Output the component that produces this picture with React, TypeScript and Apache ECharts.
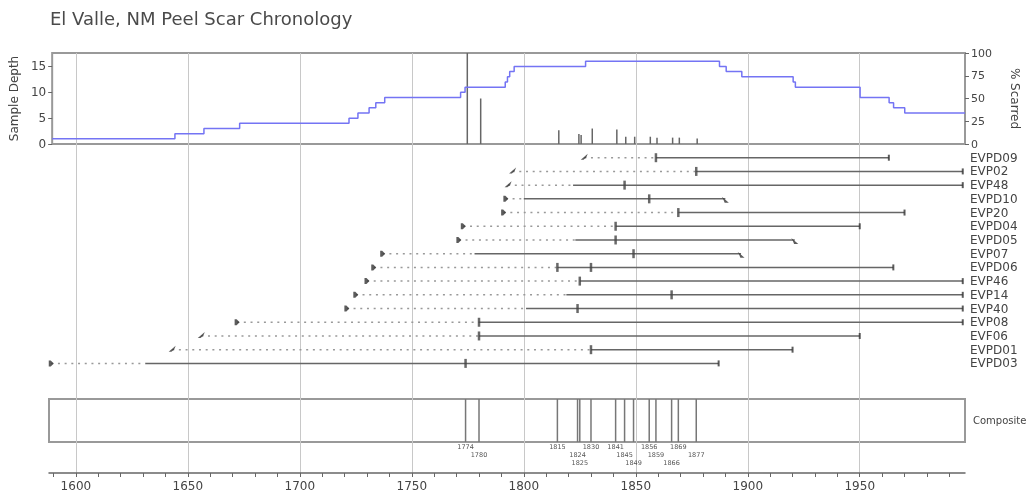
import React, { useEffect, useRef } from "react";
import * as echarts from "echarts";

const FONT = "DejaVu Sans";
const X_MIN = 1588;
const X_MAX = 1997;

// Trees, top to bottom
const treeNames = ["EVPD09", "EVP02", "EVP48", "EVPD10", "EVP20", "EVPD04", "EVPD05", "EVP07", "EVPD06", "EVP46", "EVP14", "EVP40", "EVP08", "EVF06", "EVPD01", "EVPD03"];
const innerYears = [1827, 1795, 1793, 1792, 1791, 1773, 1771, 1737, 1733, 1730, 1725, 1721, 1672, 1656, 1643, 1589];
const recordStart = [1859, 1877, 1822, 1800, 1869, 1841, 1823, 1778, 1815, 1825, 1819, 1801, 1780, 1780, 1830, 1631];
const outerYears = [1963, 1996, 1996, 1890, 1970, 1950, 1921, 1897, 1965, 1996, 1996, 1996, 1996, 1950, 1920, 1887];
const innerType = ["nopith", "nopith", "nopith", "pith", "pith", "pith", "pith", "pith", "pith", "pith", "pith", "pith", "pith", "nopith", "nopith", "pith"];
const outerType = ["bark", "bark", "bark", "nobark", "bark", "bark", "nobark", "nobark", "bark", "bark", "bark", "bark", "bark", "bark", "bark", "bark"];
const scarYears = [[1859], [1877], [1845], [1856], [1869], [1841], [1841], [1849], [1815, 1830], [1825], [1866], [1824], [1780], [1780], [1830], [1774]];

// Composite
const compositeYears = [1774, 1780, 1815, 1824, 1825, 1830, 1841, 1845, 1849, 1856, 1859, 1866, 1869, 1877];
const compositeLevels = [0, 1, 0, 1, 2, 0, 0, 1, 2, 0, 1, 2, 0, 1];

// Percent scarred
const pctYears = [1774, 1780, 1815, 1824, 1825, 1830, 1841, 1845, 1849, 1856, 1859, 1866, 1869, 1877];
const pctValues = [100, 50, 15, 11, 10, 17, 16, 8, 8, 8, 7, 7, 7, 6];

// Sample depth (step)
const depthYears = [1588, 1643, 1656, 1672, 1721, 1725, 1730, 1733, 1737, 1771, 1773, 1791, 1792, 1793, 1795, 1827, 1887, 1890, 1897, 1920, 1921, 1950, 1963, 1965, 1970, 1997];
const depthValues = [1, 2, 3, 4, 5, 6, 7, 8, 9, 10, 11, 12, 13, 14, 15, 16, 15, 14, 13, 12, 11, 9, 8, 7, 6, 6];

// Axis ticks
const minorTickYears = [1590, 1600, 1610, 1620, 1630, 1640, 1650, 1660, 1670, 1680, 1690, 1700, 1710, 1720, 1730, 1740, 1750, 1760, 1770, 1780, 1790, 1800, 1810, 1820, 1830, 1840, 1850, 1860, 1870, 1880, 1890, 1900, 1910, 1920, 1930, 1940, 1950, 1960, 1970, 1980, 1990];
const majorYears = [1600, 1650, 1700, 1750, 1800, 1850, 1900, 1950];
const depthTicks = [0, 5, 10, 15];
const pctTicks = [0, 25, 50, 75, 100];

const GL = 49;
const GW = 916;

const PITH_PATH = "path://M0,0 L4,0 L10,5 L4,10 L0,10 Z";
const NOPITH_PATH = "path://M0,10 L10,0 L8,6 L4,10 Z";
const NOBARK_PATH = "path://M0,0 L10,10 L4,10 L2,4 Z";

export default function App() {
  const ref = useRef<HTMLDivElement>(null);
  useEffect(() => {
    if (!ref.current) return;
    const chart = echarts.init(ref.current, undefined, { renderer: "svg" });

    const segments: number[][] = [];
    treeNames.forEach((_, i) => {
      if (recordStart[i] > innerYears[i]) segments.push([innerYears[i], recordStart[i], i, 0]);
      segments.push([recordStart[i], outerYears[i], i, 1]);
    });
    const scars: number[][] = [];
    scarYears.forEach((ys, i) => ys.forEach((y) => scars.push([y, i])));
    const innerPith = innerYears.map((y, i) => [y, i]).filter((_, i) => innerType[i] === "pith");
    const innerNoPith = innerYears.map((y, i) => [y, i]).filter((_, i) => innerType[i] === "nopith");
    const outerBark = outerYears.map((y, i) => [y, i]).filter((_, i) => outerType[i] === "bark");
    const outerNoBark = outerYears.map((y, i) => [y, i]).filter((_, i) => outerType[i] === "nobark");

    const hiddenX = (gridIndex: number) => ({
      type: "value", gridIndex, min: X_MIN, max: X_MAX, show: false,
    });

    const option: any = {
      animation: false,
      textStyle: { fontFamily: FONT },
      title: {
        text: "El Valle, NM Peel Scar Chronology",
        left: 50, top: 9, padding: 0,
        textStyle: { fontFamily: FONT, fontSize: 18, fontWeight: "normal", color: "#4a4a4a" },
      },
      grid: [
        { left: GL, top: 53, width: GW, height: 91, show: true, borderColor: "#999", borderWidth: 2, backgroundColor: "transparent" },
        { left: GL, top: 150.85, width: GW, height: 219.4 },
        { left: GL, top: 399, width: GW, height: 43, show: true, borderColor: "#999", borderWidth: 2, backgroundColor: "transparent" },
        { left: GL, top: 53, width: GW, height: 420 },
        { left: GL, top: 53, width: GW, height: 420 },
      ],
      xAxis: [
        hiddenX(0),
        hiddenX(1),
        hiddenX(2),
        {
          type: "value", gridIndex: 3, min: X_MIN, max: X_MAX, position: "bottom",
          axisLine: { show: true, lineStyle: { color: "#666", width: 1.5 } },
          axisTick: { show: true, customValues: minorTickYears, length: 4, lineStyle: { color: "#666", width: 1 } },
          axisLabel: {
            show: true, customValues: majorYears, fontSize: 12, color: "#444", margin: 7, fontFamily: FONT,
            formatter: (v: number) => String(v),
          },
          splitLine: { show: false },
        },
        {
          type: "value", gridIndex: 4, min: X_MIN, max: X_MAX, position: "bottom",
          axisLine: { show: false },
          axisTick: { show: false, customValues: majorYears },
          axisLabel: { show: false },
          splitLine: { show: true, lineStyle: { color: "#c8c8c8", width: 1 } },
        },
      ],
      yAxis: [
        {
          type: "value", gridIndex: 0, min: 0, max: 17.6, position: "left",
          axisLine: { show: false },
          axisTick: { show: true, customValues: depthTicks, length: 4, lineStyle: { color: "#666" } },
          axisLabel: { customValues: depthTicks, fontSize: 12, color: "#444", margin: 6, fontFamily: FONT },
          splitLine: { show: false },
          name: "Sample Depth", nameLocation: "middle", nameRotate: 90, nameGap: 25,
          nameTextStyle: { fontSize: 12, color: "#444", fontFamily: FONT },
        },
        {
          type: "value", gridIndex: 0, min: 0, max: 100, position: "right",
          axisLine: { show: false },
          axisTick: { show: true, customValues: pctTicks, length: 4, lineStyle: { color: "#666" } },
          axisLabel: { customValues: pctTicks, fontSize: 11, color: "#444", margin: 6, fontFamily: FONT },
          splitLine: { show: false },
          name: "% Scarred", nameLocation: "middle", nameRotate: -90, nameGap: 44,
          nameTextStyle: { fontSize: 12, color: "#444", fontFamily: FONT },
        },
        {
          type: "category", gridIndex: 1, data: treeNames, inverse: true, position: "right",
          axisLine: { show: false }, axisTick: { show: false },
          axisLabel: { interval: 0, fontSize: 12, color: "#444", margin: 5, fontFamily: FONT },
          splitLine: { show: false },
        },
        {
          type: "category", gridIndex: 2, data: ["Composite"], position: "right",
          axisLine: { show: false }, axisTick: { show: false },
          axisLabel: { interval: 0, fontSize: 10, color: "#444", margin: 8, fontFamily: FONT },
          splitLine: { show: false },
        },
        { type: "value", gridIndex: 3, min: 0, max: 1, show: false },
        { type: "value", gridIndex: 4, min: 0, max: 1, show: false },
      ],
      series: [
        {
          name: "% Scarred", type: "bar", xAxisIndex: 0, yAxisIndex: 1,
          data: pctYears.map((y, i) => [y, pctValues[i]]),
          barWidth: 1.5, itemStyle: { color: "#666" }, z: 3,
        },
        {
          name: "Sample Depth", type: "line", xAxisIndex: 0, yAxisIndex: 0, step: "end",
          data: depthYears.map((y, i) => [y, depthValues[i]]),
          showSymbol: false, symbol: "none",
          lineStyle: { color: "#7474f4", width: 1.5 }, z: 4,
        },
        {
          name: "Segments", type: "custom", xAxisIndex: 1, yAxisIndex: 2,
          data: segments, encode: { x: [0, 1], y: 2 },
          renderItem: (params: any, api: any) => {
            const p1 = api.coord([api.value(0), api.value(2)]);
            const p2 = api.coord([api.value(1), api.value(2)]);
            const rec = api.value(3) === 1;
            return {
              type: "line",
              shape: { x1: p1[0], y1: p1[1], x2: p2[0], y2: p2[1] },
              style: rec
                ? { stroke: "#666", lineWidth: 1.5 }
                : { stroke: "#999", lineWidth: 1.5, lineDash: [2, 4.7] },
            };
          },
          z: 3,
        },
        {
          name: "Scars", type: "scatter", xAxisIndex: 1, yAxisIndex: 2, data: scars,
          symbol: "rect", symbolSize: [2.5, 9], itemStyle: { color: "#444" }, z: 6,
        },
        {
          name: "Pith", type: "scatter", xAxisIndex: 1, yAxisIndex: 2, data: innerPith,
          symbol: PITH_PATH, symbolSize: [5, 6], itemStyle: { color: "#333" }, z: 5,
        },
        {
          name: "No pith", type: "scatter", xAxisIndex: 1, yAxisIndex: 2, data: innerNoPith,
          symbol: NOPITH_PATH, symbolSize: [7, 6], symbolOffset: [0, -1], itemStyle: { color: "#333" }, z: 5,
        },
        {
          name: "Bark", type: "scatter", xAxisIndex: 1, yAxisIndex: 2, data: outerBark,
          symbol: "rect", symbolSize: [2, 6], itemStyle: { color: "#333" }, z: 5,
        },
        {
          name: "No bark", type: "scatter", xAxisIndex: 1, yAxisIndex: 2, data: outerNoBark,
          symbol: NOBARK_PATH, symbolSize: [7, 6], symbolOffset: [0, 1], itemStyle: { color: "#333" }, z: 5,
        },
        {
          name: "Composite", type: "custom", xAxisIndex: 2, yAxisIndex: 3,
          data: compositeYears.map((y, i) => [y, 0, compositeLevels[i]]),
          encode: { x: 0, y: 1 },
          renderItem: (params: any, api: any) => {
            const c = api.coord([api.value(0), 0]);
            const h = api.size([0, 1])[1];
            const top = c[1] - h / 2;
            const bot = c[1] + h / 2;
            const lvl = api.value(2);
            return {
              type: "group",
              children: [
                {
                  type: "line",
                  shape: { x1: c[0], y1: top, x2: c[0], y2: bot },
                  style: { stroke: "#777", lineWidth: 1.5 },
                },
                {
                  type: "text",
                  x: c[0], y: bot + 1 + lvl * 8,
                  style: {
                    text: String(api.value(0)), fontSize: 6.5, fontFamily: FONT, fill: "#555",
                    textAlign: "center", textVerticalAlign: "top",
                  },
                },
              ],
            };
          },
          z: 3,
        },
      ],
    };

    chart.setOption(option);
    return () => chart.dispose();
  }, []);

  return <div ref={ref} style={{ position: "fixed", left: 0, top: 0, width: 1034, height: 498 }} />;
}
